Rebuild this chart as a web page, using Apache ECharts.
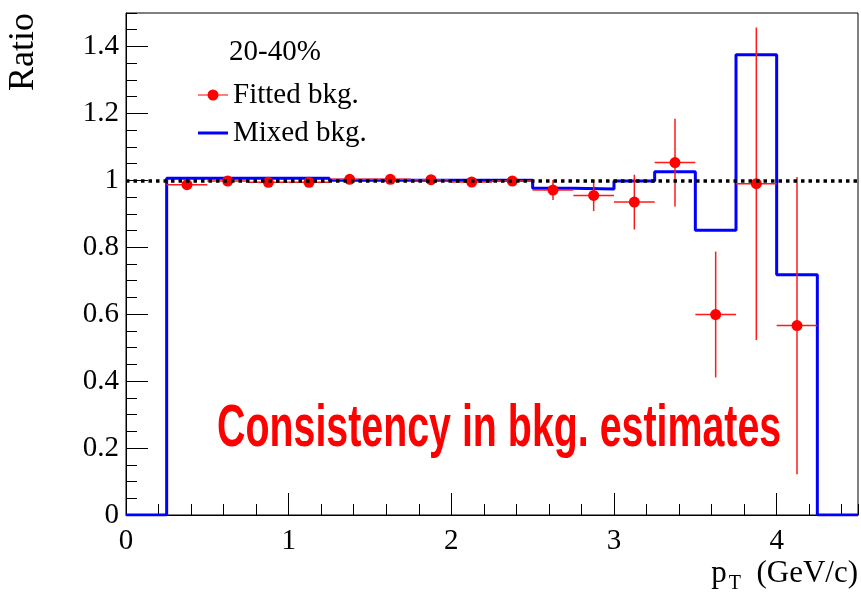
<!DOCTYPE html>
<html>
<head>
<meta charset="utf-8">
<script src="https://cdn.jsdelivr.net/npm/echarts@6/dist/echarts.min.js"></script>
<style>
html,body{margin:0;padding:0;background:#ffffff;}
#chart{width:861px;height:598px;}
</style>
</head>
<body>
<div id="chart"></div>
<script>
// ---- data ----
const binEdges = [0, 0.25, 0.5, 0.75, 1.0, 1.25, 1.5, 1.75, 2.0, 2.25, 2.5, 2.75, 3.0, 3.25, 3.5, 3.75, 4.0, 4.25, 4.5];
const mixedValues = [0, 1.006, 1.006, 1.006, 1.006, 1.0, 1.0, 1.0, 1.0, 1.0, 0.976, 0.974, 0.998, 1.026, 0.851, 1.375, 0.718, 0];
const fittedX = [0.375, 0.625, 0.875, 1.125, 1.375, 1.625, 1.875, 2.125, 2.375, 2.625, 2.875, 3.125, 3.375, 3.625, 3.875, 4.125];
const fittedY = [0.987, 0.998, 0.994, 0.994, 1.003, 1.003, 1.002, 0.995, 0.998, 0.971, 0.955, 0.935, 1.053, 0.599, 0.990, 0.566];
const fittedYErr = [0.008, 0.010, 0.008, 0.012, 0.010, 0.010, 0.010, 0.008, 0.015, 0.030, 0.047, 0.082, 0.131, 0.188, 0.467, 0.444];
const fittedXErr = [0.125, 0.125, 0.125, 0.125, 0.125, 0.125, 0.125, 0.125, 0.125, 0.125, 0.125, 0.125, 0.125, 0.125, 0.125, 0.125];
const referenceLevel = 1;
const centralityLabel = '20-40%';
const seriesNames = ['Fitted bkg.', 'Mixed bkg.'];
const annotation = 'Consistency in bkg. estimates';

// ---- build library inputs ----
const histData = binEdges.slice(0, -1).map((e, i) => [e, mixedValues[i]]);
histData.push([binEdges[binEdges.length - 1], mixedValues[mixedValues.length - 1]]);
const pointData = fittedX.map((x, i) => [x, fittedY[i]]);
const errData = fittedX.map((x, i) => [x, fittedY[i], fittedYErr[i], fittedXErr[i]]);

const SERIF = '"Liberation Serif", "DejaVu Serif", serif';

const chart = echarts.init(document.getElementById('chart'), null, {renderer: 'canvas'});
chart.setOption({
  backgroundColor: '#ffffff',
  animation: false,
  grid: {left: 126, right: 3, top: 13, bottom: 83, show: true, borderColor: '#000', borderWidth: 1, backgroundColor: 'transparent'},
  legend: {
    orient: 'vertical',
    left: 193,
    top: 75,
    itemWidth: 30,
    itemHeight: 12,
    itemGap: 8,
    textStyle: {fontFamily: SERIF, fontSize: 29, color: '#000', lineHeight: 30},
    data: [
      {name: seriesNames[0], icon: 'path://M0,5.4 L30,5.4 L30,6.6 L0,6.6 Z M20.5,6 A5.5,5.5 0 1 1 9.5,6 A5.5,5.5 0 1 1 20.5,6 Z',
        itemStyle: {opacity: 1}},
      {name: seriesNames[1], icon: 'path://M0,0 L0.01,0 L0,0 Z M0,12 L0.01,12 L0,12 Z M0,4.5 L30,4.5 L30,7.5 L0,7.5 Z'}
    ]
  },
  xAxis: [
    {
      type: 'value', min: 0, max: 4.5, interval: 1, position: 'bottom',
      axisLine: {show: true, lineStyle: {color: '#000', width: 1}},
      axisTick: {show: true, inside: true, length: 22, lineStyle: {color: '#000', width: 1}},
      axisLabel: {show: true, margin: 12, showMaxLabel: false, fontFamily: SERIF, fontSize: 29, color: '#000'},
      splitLine: {show: false}
    },
    {
      type: 'value', min: 0, max: 4.5, interval: 0.2, position: 'bottom',
      axisLine: {show: false},
      axisTick: {show: true, inside: true, length: 11, lineStyle: {color: '#000', width: 1}},
      axisLabel: {show: false},
      splitLine: {show: false}
    }
  ],
  yAxis: [
    {
      type: 'value', min: 0, max: 1.5, interval: 0.2, position: 'left',
      axisLine: {show: true, lineStyle: {color: '#000', width: 1}},
      axisTick: {show: true, inside: true, length: 22, lineStyle: {color: '#000', width: 1}},
      axisLabel: {show: true, margin: 7, showMaxLabel: false, fontFamily: SERIF, fontSize: 29, color: '#000',
        formatter: v => (Math.abs(v - 1.5) < 1e-9 ? '' : String(+v.toFixed(1)))},
      splitLine: {show: false}
    },
    {
      type: 'value', min: 0, max: 1.5, interval: 0.05, position: 'left',
      axisLine: {show: false},
      axisTick: {show: true, inside: true, length: 11, lineStyle: {color: '#000', width: 1}},
      axisLabel: {show: false},
      splitLine: {show: false}
    }
  ],
  series: [
    {
      name: seriesNames[1],
      type: 'line',
      step: 'end',
      xAxisIndex: 0, yAxisIndex: 0,
      data: histData,
      symbol: 'none',
      color: '#0000ff',
      lineStyle: {color: '#0000ff', width: 3},
      z: 2,
      markLine: {
        silent: true,
        symbol: 'none',
        label: {show: false},
        lineStyle: {color: '#000', width: 3.5, type: [3.5, 4], opacity: 1},
        data: [{yAxis: referenceLevel}],
        z: 10
      }
    },
    {
      name: 'errors',
      type: 'custom',
      xAxisIndex: 0, yAxisIndex: 0,
      data: errData,
      z: 3,
      renderItem: function (params, api) {
        const x = api.value(0), y = api.value(1), ey = api.value(2), ex = api.value(3);
        const pl = api.coord([x - ex, y]);
        const pr = api.coord([x + ex, y]);
        const pt = api.coord([x, Math.min(y + ey, 1.5)]);
        const pb = api.coord([x, Math.max(y - ey, 0)]);
        const st = {stroke: '#ff1a1a', lineWidth: 1.5};
        return {
          type: 'group',
          children: [
            {type: 'line', shape: {x1: pl[0], y1: pl[1], x2: pr[0], y2: pr[1]}, style: st},
            {type: 'line', shape: {x1: pt[0], y1: pt[1], x2: pb[0], y2: pb[1]}, style: st}
          ]
        };
      }
    },
    {
      name: seriesNames[0],
      type: 'scatter',
      xAxisIndex: 0, yAxisIndex: 0,
      data: pointData,
      symbol: 'circle',
      symbolSize: 11,
      color: '#ff0000',
      itemStyle: {color: '#ff0000', opacity: 1},
      z: 4
    }
  ],
  graphic: [
    {
      type: 'text', x: 229, y: 52,
      style: {text: centralityLabel, x: 0, y: 0, align: 'left', verticalAlign: 'middle', font: '29px ' + SERIF, fill: '#000'}
    },
    {
      type: 'text', x: 217, y: 430, scaleX: 0.667,
      style: {text: annotation, x: 0, y: 0, align: 'left', verticalAlign: 'middle',
        font: 'bold 59px "Liberation Sans", Arial, sans-serif', fill: '#ff0000'}
    },
    {
      type: 'text', x: 24, y: 13, rotation: Math.PI / 2,
      style: {text: 'Ratio', x: 0, y: 0, align: 'right', verticalAlign: 'middle', font: '36px ' + SERIF, fill: '#000'}
    },
    {
      type: 'text', x: 858, y: 574,
      style: {
        text: '{p|p}{s|T}{t|  (GeV/c)}', x: 0, y: 0, align: 'right', verticalAlign: 'middle',
        rich: {
          p: {fontFamily: SERIF, fontSize: 31, fill: '#000', color: '#000'},
          s: {fontFamily: SERIF, fontSize: 20, fill: '#000', color: '#000', padding: [20, 0, 0, 2]},
          t: {fontFamily: SERIF, fontSize: 31, fill: '#000', color: '#000'}
        }
      }
    }
  ]
});
</script>
</body>
</html>
